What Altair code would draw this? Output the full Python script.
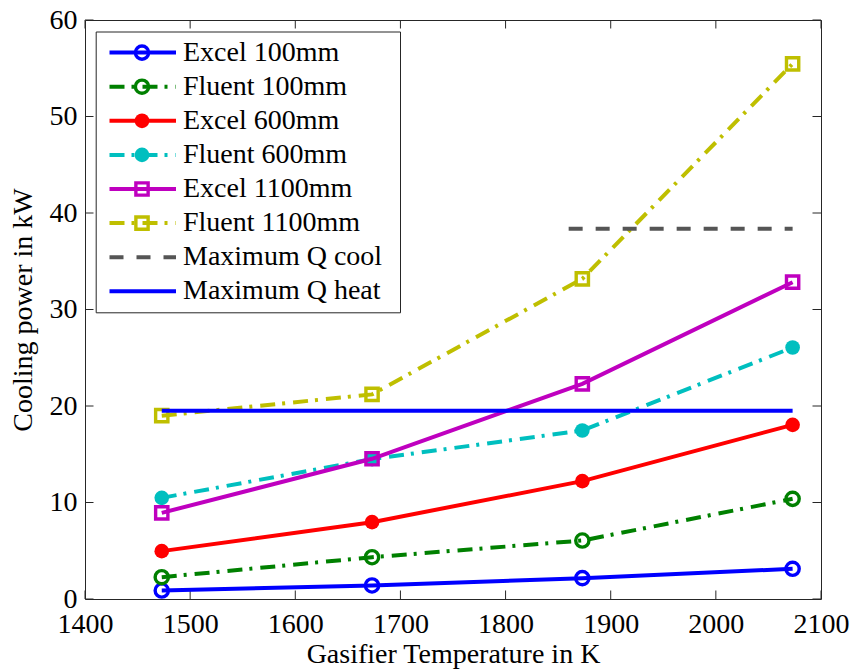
import altair as alt
import pandas as pd

# ---------------- data ----------------
temps = [1473, 1673, 1873, 2073]
excel_100 = [0.88, 1.40, 2.16, 3.13]
fluent_100 = [2.26, 4.33, 6.06, 10.38]
excel_600 = [4.96, 7.96, 12.21, 18.05]
fluent_600 = [10.48, 14.50, 17.46, 26.06]
excel_1100 = [8.93, 14.53, 22.30, 32.83]
fluent_1100 = [19.00, 21.20, 33.18, 55.46]
qcool_x = [1860, 2073]
qcool_y = [38.36, 38.36]
qheat_x = [1473, 2073]
qheat_y = [19.5, 19.5]

series_names = ["Excel 100mm", "Fluent 100mm", "Excel 600mm", "Fluent 600mm",
                "Excel 1100mm", "Fluent 1100mm", "Maximum Q cool", "Maximum Q heat"]
series_x = [temps, temps, temps, temps, temps, temps, qcool_x, qheat_x]
series_y = [excel_100, fluent_100, excel_600, fluent_600, excel_1100, fluent_1100,
            qcool_y, qheat_y]

x_ticks = [1400, 1500, 1600, 1700, 1800, 1900, 2000, 2100]
y_ticks = [0, 10, 20, 30, 40, 50, 60]

# ---------------- styles ----------------
FONT = "Liberation Serif"
FS = 28
W, H = 736, 579
AX = "#262626"
DASHDOT = [15, 7, 3, 8]
styles = [
    dict(color="#0000FF", dash=None, shape="circle", filled=False),
    dict(color="#008000", dash=DASHDOT, shape="circle", filled=False),
    dict(color="#FF0000", dash=None, shape="circle", filled=True),
    dict(color="#00BFBF", dash=DASHDOT, shape="circle", filled=True),
    dict(color="#BF00BF", dash=None, shape="square", filled=False),
    dict(color="#BFBF00", dash=DASHDOT, shape="square", filled=False),
    dict(color="#555555", dash=[14, 13], shape=None, filled=False),
    dict(color="#0000FF", dash=None, shape=None, filled=False),
]

xscale = alt.Scale(domain=[1400, 2100], nice=False, zero=False)
yscale = alt.Scale(domain=[0, 60], nice=False, zero=True)
xaxis = alt.Axis(values=x_ticks, ticks=False, domain=False, grid=False, format="d",
                 labelFont=FONT, labelFontSize=FS, labelColor="black", labelPadding=11,
                 labelFlush=False, labelOverlap=False,
                 titleFont=FONT, titleFontSize=FS, titleFontWeight="normal",
                 titleColor="black", titlePadding=2)
yaxis = alt.Axis(values=y_ticks, ticks=False, domain=False, grid=False, format="d",
                 labelFont=FONT, labelFontSize=FS, labelColor="black", labelPadding=8,
                 labelFlush=False, labelOverlap=False,
                 titleFont=FONT, titleFontSize=FS, titleFontWeight="normal",
                 titleColor="black", titlePadding=12)


def X():
    return alt.X("x:Q", scale=xscale, axis=xaxis, title="Gasifier Temperature in K")


def Y():
    return alt.Y("y:Q", scale=yscale, axis=yaxis, title="Cooling power in kW")


layers = []

# inward ticks (MATLAB box style)
TL = 8.5
xt = pd.DataFrame({"x": x_ticks})
yt = pd.DataFrame({"y": y_ticks})
layers.append(alt.Chart(xt).mark_rule(color=AX, strokeWidth=1).encode(
    x=X(), y=alt.value(H), y2=alt.value(H - TL)))
layers.append(alt.Chart(xt).mark_rule(color=AX, strokeWidth=1).encode(
    x=X(), y=alt.value(0), y2=alt.value(TL)))
layers.append(alt.Chart(yt).mark_rule(color=AX, strokeWidth=1).encode(
    y=Y(), x=alt.value(0), x2=alt.value(TL)))
layers.append(alt.Chart(yt).mark_rule(color=AX, strokeWidth=1).encode(
    y=Y(), x=alt.value(W), x2=alt.value(W - TL)))


def point_mark(st, **kw):
    if st["shape"] == "circle":
        size = 215 if st["filled"] else 175
    else:
        size = 150
    if st["filled"]:
        return dict(shape=st["shape"], filled=True, color=st["color"], size=size,
                    opacity=1, **kw)
    return dict(shape=st["shape"], filled=False, color=st["color"], size=size,
                strokeWidth=3.4, opacity=1, **kw)


for name, xs, ys, st in zip(series_names, series_x, series_y, styles):
    df = pd.DataFrame({"x": xs, "y": ys})
    lk = dict(color=st["color"], strokeWidth=4)
    if st["dash"]:
        lk["strokeDash"] = st["dash"]
    layers.append(alt.Chart(df).mark_line(**lk).encode(x=X(), y=Y()))
    if st["shape"]:
        layers.append(alt.Chart(df).mark_point(**point_mark(st)).encode(x=X(), y=Y()))

# ---------------- legend (drawn in pixel space) ----------------
dummy = pd.DataFrame({"a": [0]})
LX0, LX1, LY0, LY1 = 11.2, 315.5, 12.0, 292.8
ROW0, ROWD = 32.6, 34.1
layers.append(alt.Chart(dummy).mark_rect(fill="white", stroke=AX, strokeWidth=1).encode(
    x=alt.value(LX0), x2=alt.value(LX1), y=alt.value(LY0), y2=alt.value(LY1)))
for i, (name, st) in enumerate(zip(series_names, styles)):
    yy = ROW0 + i * ROWD
    lk = dict(color=st["color"], strokeWidth=4)
    if st["dash"]:
        lk["strokeDash"] = st["dash"]
    layers.append(alt.Chart(dummy).mark_rule(**lk).encode(
        x=alt.value(24.5), x2=alt.value(91.0), y=alt.value(yy)))
    if st["shape"]:
        layers.append(alt.Chart(dummy).mark_point(**point_mark(st)).encode(
            x=alt.value(57.0), y=alt.value(yy)))
    layers.append(alt.Chart(dummy).mark_text(
        text=name, font=FONT, fontSize=FS, color="black", align="left",
        baseline="middle").encode(x=alt.value(98.0), y=alt.value(yy)))

chart = alt.layer(*layers).properties(
    width=W, height=H,
    autosize=alt.AutoSizeParams(type="none"),
    padding={"left": 85, "top": 20, "right": 32, "bottom": 70},
    background="white",
).configure_view(stroke=AX, strokeWidth=1)

chart.save("out.html", embed_options={"renderer": "svg", "actions": False})
